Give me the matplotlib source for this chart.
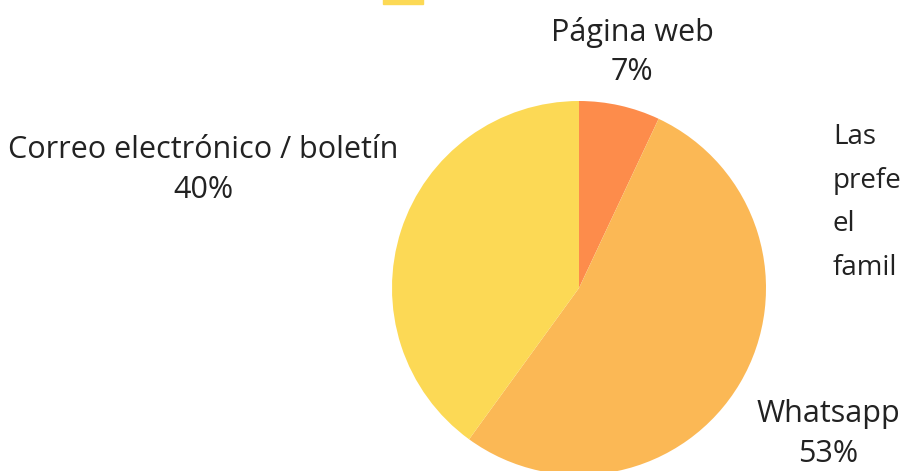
import matplotlib
matplotlib.use("Agg")
import matplotlib.pyplot as plt
from matplotlib.patches import Rectangle

categories = ["Página web", "Whatsapp", "Correo electrónico / boletín"]
values = [7, 53, 40]
colors = ["#FD8C4B", "#FBB855", "#FCD955"]
side_text = ["Las", "prefe", "el", "famil"]

plt.rcParams['font.family'] = ['Open Sans', 'DejaVu Sans']

W, H = 904, 471
fig = plt.figure(figsize=(W / 100, H / 100), dpi=100)
fig.patch.set_facecolor("white")

cx, cy, r = 579, 288, 187
ax = fig.add_axes([(cx - r) / W, (H - cy - r) / H, 2 * r / W, 2 * r / H])
ax.pie(values, colors=colors, startangle=90, counterclock=False,
       radius=1, wedgeprops=dict(linewidth=0))
ax.set_xlim(-1, 1)
ax.set_ylim(-1, 1)
ax.set_aspect("equal")
ax.axis("off")

# cut-off legend swatch at top
fig.patches.append(Rectangle((383 / W, 1 - 4 / H), 40 / W, 6 / H,
                             transform=fig.transFigure, color=colors[2]))

label_pos = [(632, 52), (828, 434), (203, 170)]
for cat, val, (x, y) in zip(categories, values, label_pos):
    fig.text(x / W, 1 - y / H, f"{cat}\n{val}%", ha="center", va="center",
             fontsize=22, color="#222222", linespacing=1.42)

for i, t in enumerate(side_text):
    fig.text(833 / W, 1 - (137 + 43.7 * i) / H, t, ha="left", va="center",
             fontsize=20, color="#222222")

fig.savefig("out.png", dpi=100)
